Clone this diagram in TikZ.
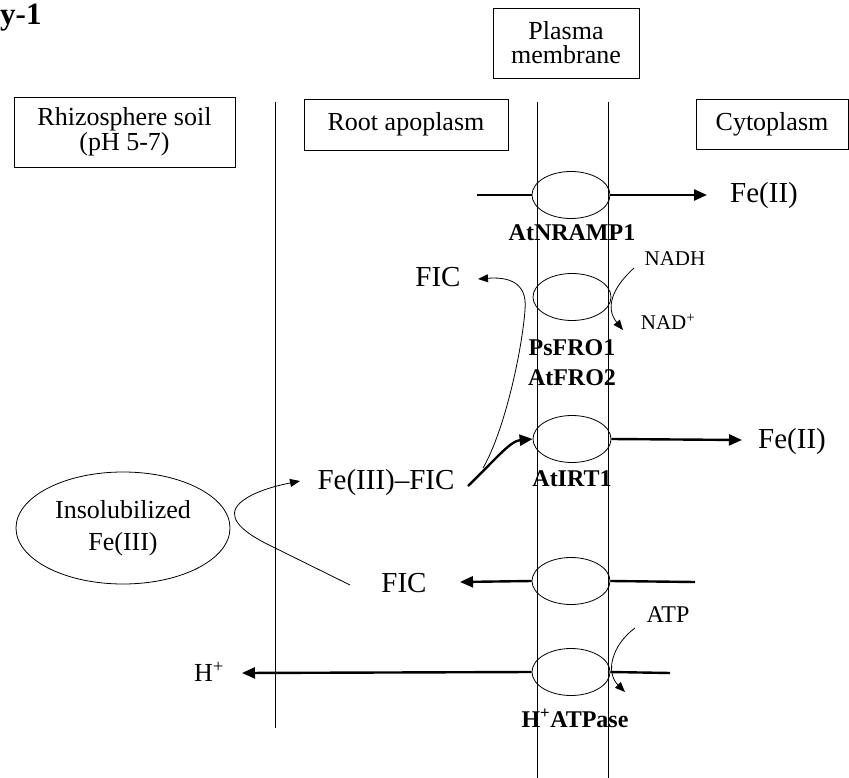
\documentclass[tikz,border=0pt]{standalone}
\usepackage{fontspec}
\setmainfont{Liberation Serif}
\usetikzlibrary{shapes.geometric,arrows.meta}
\begin{document}
\begin{tikzpicture}[x=1pt,y=-1pt,
  thinl/.style={line width=0.8pt},
  fatl/.style={line width=2.4pt},
  fattip/.style={-{Triangle[length=13pt,width=11pt]}},
  thintip/.style={-{Triangle[length=10pt,width=8pt]}},
  boxlbl/.style={draw,line width=0.8pt,inner sep=0pt,align=center,font=\fontsize{26}{26}\selectfont},
  bigtxt/.style={inner sep=0pt,font=\fontsize{29}{30}\selectfont},
  midtxt/.style={inner sep=0pt,font=\fontsize{26}{26}\selectfont},
  smalltxt/.style={inner sep=0pt,font=\fontsize{21}{22}\selectfont},
  boldtxt/.style={inner sep=0pt,align=center,font=\fontsize{24}{30}\selectfont\bfseries},
  pore/.style={ellipse,draw,line width=0.8pt,minimum width=78pt,minimum height=47pt,inner sep=0pt}
]
\useasboundingbox (0,0) rectangle (849,778);

% title fragment
\node[anchor=base west,inner sep=0pt,font=\fontsize{31}{31}\selectfont\bfseries] (title) at (0,25) {y-1};

% region boxes
\node[boxlbl,minimum width=146pt,minimum height=70pt] (plasma) at (566,43) {Plasma\\[-2pt]membrane};
\node[boxlbl,minimum width=221pt,minimum height=70pt] (rhizo) at (124.5,132) {Rhizosphere soil\\[-1pt](pH 5-7)};
\node[boxlbl,minimum width=204pt,minimum height=51pt] (apo) at (406,124.5) {Root apoplasm};
\node[boxlbl,minimum width=152pt,minimum height=50pt] (cyto) at (772,124) {Cytoplasm};

% boundaries
\coordinate (wallTop) at (275,102); \coordinate (wallBot) at (275,728);
\coordinate (mLtop) at (537,102); \coordinate (mLbot) at (537,778);
\coordinate (mRtop) at (608,102); \coordinate (mRbot) at (608,778);
\draw[thinl] (wallTop) -- (wallBot);
\draw[thinl] (mLtop) -- (mLbot);
\draw[thinl] (mRtop) -- (mRbot);

% AtNRAMP1
\node[pore] (nramp) at (571,195) {};
\coordinate (nrampIn) at (477,195);
\node[bigtxt] (fe2a) at (764,196) {Fe(II)};
\coordinate (fe2aTip) at (707,195);
\draw[fatl] (nrampIn) -- (nramp.west);
\draw[fatl,fattip] (nramp.east) -- (fe2aTip);
\node[boldtxt] (nrampLbl) at (572,233) {AtNRAMP1};

% PsFRO1 / AtFRO2
\node[pore] (fro) at (572,297) {};
\node[smalltxt] (nadh) at (675,259) {NADH};
\node[smalltxt] (nad) at (668,322) {NAD\textsuperscript{+}};
\coordinate (nadhS) at (634,268);
\coordinate (nadT) at (623,330);
\draw[thinl,thintip] (nadhS) .. controls (612,288) and (605,308) .. (nadT);
\node[boldtxt] (froLbl) at (572,363) {PsFRO1\\AtFRO2};
\node[bigtxt] (ficTop) at (438,277) {FIC};
\coordinate (ficTopTip) at (478,279);
\coordinate (ficStart) at (483,468);
\draw[thinl,thintip] (ficStart) .. controls (505,430) and (522,350) .. (525,310)
   .. controls (528,280) and (505,277) .. (ficTopTip);

% AtIRT1
\node[pore] (irt) at (572,439) {};
\node[bigtxt] (fe3fic) at (386,483) {Fe(III)\textendash FIC};
\coordinate (fe3ficOut) at (468,486);
\draw[fatl,fattip] (fe3ficOut) .. controls (495,460) and (510,441) .. (irt.west);
\node[bigtxt] (fe2b) at (792,442) {Fe(II)};
\coordinate (fe2bTip) at (742,440);
\draw[fatl,fattip] (irt.east) -- (fe2bTip);
\node[boldtxt] (irtLbl) at (572,479) {AtIRT1};

% Insolubilized Fe(III)
\node[ellipse,draw,line width=0.8pt,minimum width=214pt,minimum height=112pt,inner sep=0pt,
      align=center,font=\fontsize{26}{32}\selectfont] (insol) at (123,528) {Insolubilized\\Fe(III)};

% FIC efflux
\node[pore] (eff) at (571,581) {};
\node[bigtxt] (ficLow) at (404,583) {FIC};
\coordinate (effIn) at (695,582);
\coordinate (ficLowTip) at (460,582);
\draw[fatl] (effIn) -- (eff.east);
\draw[fatl,fattip] (eff.west) -- (ficLowTip);
\coordinate (ficLowS) at (350,585);
\coordinate (fe3Tip) at (300,481);
\draw[thinl,thintip] (ficLowS) -- (265,543) .. controls (240,530) and (226,516) .. (240,503)
   .. controls (252,492) and (275,486) .. (fe3Tip);

% H+ ATPase
\node[pore] (atp) at (571,672) {};
\node[midtxt] (hplus) at (209,672) {H\textsuperscript{+}};
\coordinate (atpIn) at (670,673);
\coordinate (hTip) at (242,673);
\draw[fatl] (atpIn) -- (atp.east);
\draw[fatl,fattip] (atp.west) -- (hTip);
\node[inner sep=0pt,font=\fontsize{24}{24}\selectfont] (atpTxt) at (668,615) {ATP};
\coordinate (atpS) at (635,628);
\coordinate (atpT) at (625,692);
\draw[thinl,thintip] (atpS) .. controls (612,645) and (605,672) .. (atpT);
\node[boldtxt] (atpLbl) at (575,718) {H\textsuperscript{+}ATPase};
\end{tikzpicture}
\end{document}
